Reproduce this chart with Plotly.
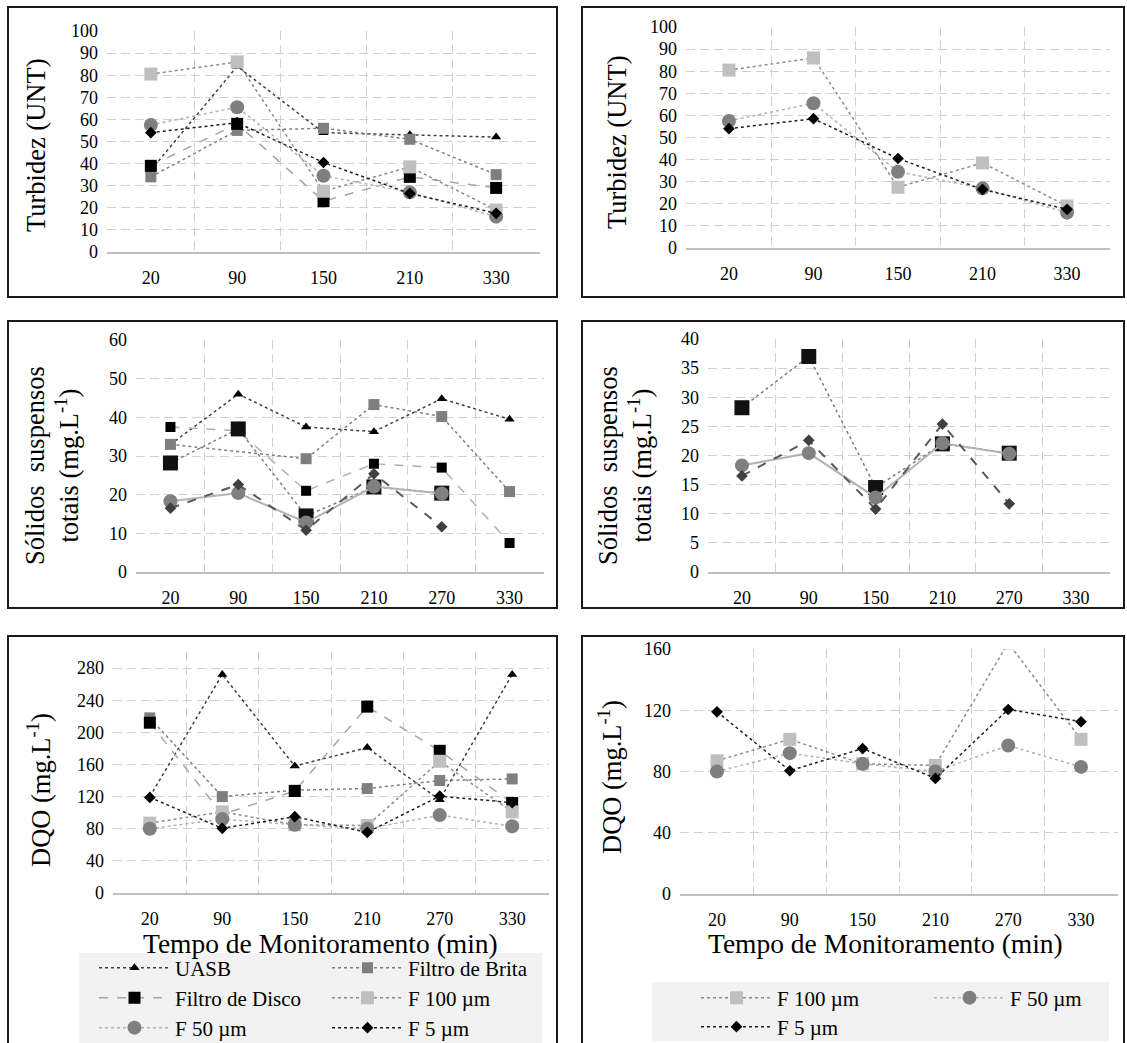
import plotly.graph_objects as go

W, H = 1127, 1043
SERIF = "Liberation Serif, 'Times New Roman', Times, serif"

# ---- monitoring times (categories) ----
tempo_turb = ["20", "90", "150", "210", "330"]
tempo = ["20", "90", "150", "210", "270", "330"]

# ---- Turbidez (UNT) ----
turb_uasb = [37, 84, 54, 53, 52]
turb_brita = [34, 55, 56, 51, 35]
turb_disco = [39, 58, 23, 34, 29]
turb_f100 = [80.5, 86, 27.5, 38.5, 19]
turb_f50 = [57.5, 65.5, 34.5, 27, 16]
turb_f5 = [54, 58.5, 40.5, 26.5, 17.5]

# ---- Sólidos suspensos totais (mg/L) ----
sst_uasb = [33, 46, 37.5, 36.3, 44.8, 39.5]
sst_brita = [33, None, 29.3, 43.3, 40.2, 20.8]
sst_disco = [37.5, 36.5, 21, 28, 27, 7.5]
sst_f100 = [28.2, 37, 14.5, 22, 20.4, None]
sst_f50 = [18.3, 20.4, 12.8, 22.1, 20.3, None]
sst_f5 = [16.5, 22.6, 10.8, 25.4, 11.7, None]

# ---- DQO (mg/L) ----
dqo_uasb = [120, 272, 158, 181, 116, 272]
dqo_brita = [218, 120, 128, 130, 140, 142]
dqo_disco = [212, 98, 127, 232, 177, 112]
dqo_f100 = [87, 101, 85, 84, 164, 101]
dqo_f50 = [80, 92, 85, 80, 97, 83]
dqo_f5 = [119, 80.5, 95, 75.5, 120.5, 112.5]

names = ["UASB", "Filtro de Brita", "Filtro de Disco", "F 100 µm", "F 50 µm", "F 5 µm"]


def px_x(v):
    return v / W


def px_y(v):
    return 1 - v / H


# line / marker styles of each series
STD = {
    "UASB": dict(line=dict(color="#404040", width=1.5, dash="dot"),
                 marker=dict(symbol="triangle-up", size=9, color="#000000")),
    "Filtro de Brita": dict(line=dict(color="#7f7f7f", width=1.5, dash="dot"),
                            marker=dict(symbol="square", size=11, color="#7f7f7f")),
    "Filtro de Disco": dict(line=dict(color="#a6a6a6", width=1.5, dash="dash"),
                            marker=dict(symbol="square", size=12, color="#000000")),
    "F 100 µm": dict(line=dict(color="#8c8c8c", width=1.5, dash="dot"),
                     marker=dict(symbol="square", size=13, color="#bfbfbf")),
    "F 50 µm": dict(line=dict(color="#b3b3b3", width=1.5, dash="dot"),
                    marker=dict(symbol="circle", size=14, color="#7f7f7f")),
    "F 5 µm": dict(line=dict(color="#1f1f1f", width=1.5, dash="dot"),
                   marker=dict(symbol="diamond", size=9, color="#000000")),
}
SST = dict(STD)
SST.update({
    "Filtro de Disco": dict(line=dict(color="#b0b0b0", width=1.5, dash="dash"),
                            marker=dict(symbol="square", size=10, color="#000000")),
    "F 100 µm": dict(line=dict(color="#7f7f7f", width=1.5, dash="dot"),
                     marker=dict(symbol="square", size=15, color="#111111")),
    "F 50 µm": dict(line=dict(color="#b3b3b3", width=2, dash="solid"),
                    marker=dict(symbol="circle", size=14, color="#808080")),
    "F 5 µm": dict(line=dict(color="#595959", width=2, dash="dash"),
                   marker=dict(symbol="diamond", size=9, color="#404040")),
})

panels = [
    dict(n=1, cats=tempo_turb, rng=[0, 100], dtick=10, xs=(107, 540), ys=(31, 252), sty=STD,
         data=[turb_uasb, turb_brita, turb_disco, turb_f100, turb_f50, turb_f5], legends=None),
    dict(n=2, cats=tempo_turb, rng=[0, 100], dtick=10, xs=(686, 1110), ys=(27, 248), sty=STD,
         data=[None, None, None, turb_f100, turb_f50, turb_f5], legends=None),
    dict(n=3, cats=tempo, rng=[0, 60], dtick=10, xs=(136, 544), ys=(340, 572), sty=SST,
         data=[sst_uasb, sst_brita, sst_disco, sst_f100, sst_f50, sst_f5], legends=None),
    dict(n=4, cats=tempo, rng=[0, 40], dtick=5, xs=(708, 1110), ys=(339, 572), sty=SST,
         data=[None, None, None, sst_f100, sst_f50, sst_f5], legends=None),
    dict(n=5, cats=tempo, rng=[0, 300], dtick=40, xs=(113, 549), ys=(652, 893), sty=STD,
         data=[dqo_uasb, dqo_brita, dqo_disco, dqo_f100, dqo_f50, dqo_f5],
         legends=["legend", "legend", "legend2", "legend2", "legend3", "legend3"]),
    dict(n=6, cats=tempo, rng=[0, 160], dtick=40, xs=(680, 1118), ys=(649, 894), sty=STD,
         data=[None, None, None, dqo_f100, dqo_f50, dqo_f5],
         legends=[None, None, None, "legend4", "legend4", "legend5"]),
]

fig = go.Figure()
layout = dict(width=W, height=H, margin=dict(l=0, r=0, t=0, b=0, autoexpand=False),
              paper_bgcolor="white", plot_bgcolor="white")

tickfont = dict(family=SERIF, size=18, color="#000000")
grid = "#d0d0d0"
EPS = 0.008

for p in panels:
    n = p["n"]
    xa, ya = f"xaxis{n}", f"yaxis{n}"
    xr, yr = f"x{n}", f"y{n}"
    layout[xa] = dict(
        domain=[px_x(p["xs"][0]), px_x(p["xs"][1])], anchor=yr,
        type="category", categoryorder="array", categoryarray=p["cats"],
        range=[-0.5 - EPS, len(p["cats"]) - 0.5 + EPS], tickson="boundaries",
        showgrid=True, gridcolor=grid, griddash="9px,5px", gridwidth=1,
        showline=True, linecolor="#bfbfbf", linewidth=2, zeroline=False,
        ticks="", ticklabelstandoff=8, tickfont=tickfont,
        fixedrange=True)
    layout[ya] = dict(
        domain=[px_y(p["ys"][1]), px_y(p["ys"][0])], anchor=xr,
        range=p["rng"], tick0=0, dtick=p["dtick"],
        showgrid=True, gridcolor=grid, griddash="9px,5px", gridwidth=1,
        showline=False, zeroline=False,
        ticks="", ticklabelstandoff=8, tickfont=tickfont,
        fixedrange=True)
    for i, (name, vals) in enumerate(zip(names, p["data"])):
        if vals is None:
            continue
        st = p["sty"][name]
        lg = p["legends"][i] if p["legends"] else None
        fig.add_trace(go.Scatter(
            x=p["cats"], y=vals, name=name, mode="lines+markers",
            line=st["line"], marker=st["marker"], connectgaps=True,
            xaxis=xr, yaxis=yr, showlegend=lg is not None,
            legend=lg if lg else "legend", hoverinfo="x+y+name"))

# legends: one row each, two columns
legfont = dict(family=SERIF, size=21, color="#000000")
leg_rows = {"legend": (94, 968), "legend2": (94, 998), "legend3": (94, 1028),
            "legend4": (696, 998), "legend5": (696, 1027)}
for key, (lx, ly) in leg_rows.items():
    layout[key] = dict(orientation="h", x=px_x(lx), y=px_y(ly), xanchor="left", yanchor="middle",
                       bgcolor="rgba(0,0,0,0)", borderwidth=0, font=legfont,
                       itemwidth=71, entrywidth=147, entrywidthmode="pixels",
                       itemclick=False, itemdoubleclick=False)

# panel frames and legend backgrounds
shapes = []
frames = [(8, 7, 557, 297), (582, 7, 1124, 297), (8, 321, 557, 608), (582, 321, 1124, 608),
          (8, 636, 557, 1050), (582, 636, 1124, 1050)]
for x0, y0, x1, y1 in frames:
    shapes.append(dict(type="rect", xref="paper", yref="paper", x0=px_x(x0), x1=px_x(x1),
                       y0=px_y(y1), y1=px_y(y0), line=dict(color="#1a1a1a", width=2), layer="above"))
for x0, y0, x1, y1 in [(79, 953, 542, 1050), (652, 982, 1109, 1041)]:
    shapes.append(dict(type="rect", xref="paper", yref="paper", x0=px_x(x0), x1=px_x(x1),
                       y0=px_y(y1), y1=px_y(y0), line=dict(width=0), fillcolor="#f2f2f2", layer="below"))
layout["shapes"] = shapes

# axis titles
ytitlefont = dict(family=SERIF, size=26.5, color="#000000")
xtitlefont = dict(family=SERIF, size=27.5, color="#000000")
ann = []
ytitles = [("Turbidez (UNT)", 36, 146), ("Turbidez (UNT)", 617, 143),
           ("Sólidos\u00a0 suspensos<br>totais (mg.L<sup>-1</sup>)", 52, 466),
           ("Sólidos\u00a0 suspensos<br>totais (mg.L<sup>-1</sup>)", 625, 466),
           ("DQO (mg.L<sup>-1</sup>)", 39, 790), ("DQO (mg.L<sup>-1</sup>)", 610, 777)]
for text, cx, cy in ytitles:
    ann.append(dict(text=text, x=px_x(cx), y=px_y(cy), xref="paper", yref="paper",
                    textangle=-90, showarrow=False, font=ytitlefont,
                    xanchor="center", yanchor="middle"))
for cx in (320, 885):
    ann.append(dict(text="Tempo de Monitoramento (min)", x=px_x(cx), y=px_y(943),
                    xref="paper", yref="paper", showarrow=False, font=xtitlefont,
                    xanchor="center", yanchor="middle"))
layout["annotations"] = ann

fig.update_layout(**layout)
fig.write_html("out.html")
